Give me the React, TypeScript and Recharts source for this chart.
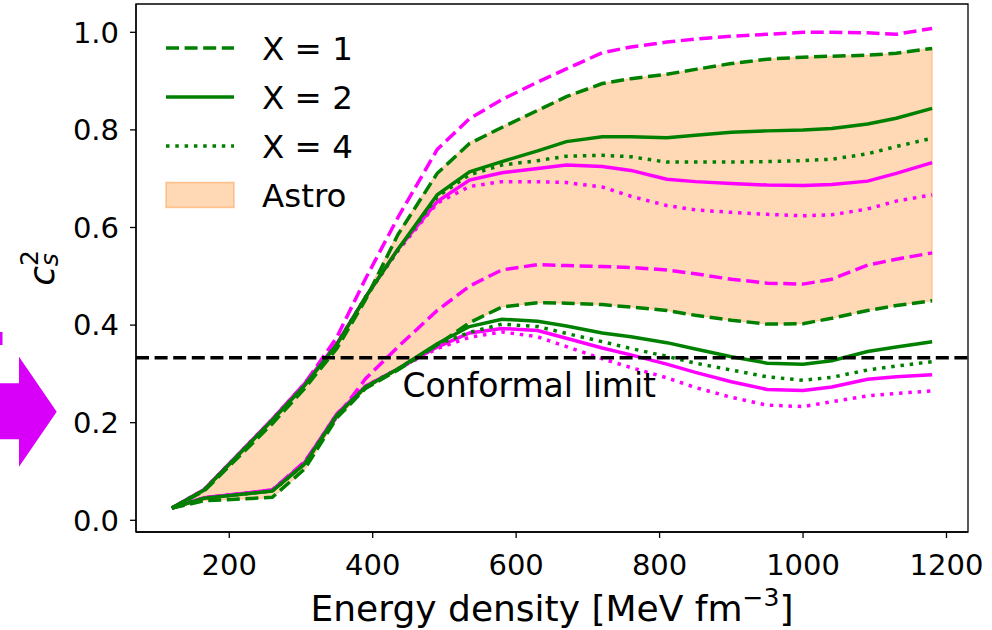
import React from 'react';
import { ComposedChart, Line, Area, XAxis, YAxis, ReferenceLine, ReferenceArea } from 'recharts';

const FONT = '"DejaVu Sans", Verdana, sans-serif';
const GREEN = '#008000';
const MAGENTA = '#ff00ff';
const ORANGE = '#ff7f0e';

// Energy density grid [MeV fm^-3]
const energy = [120, 165, 260, 305, 350, 390, 435, 490, 535, 580, 630, 670, 720, 760, 810, 850, 900, 950, 1000, 1040, 1090, 1130, 1180];

// Astro band
const astroLo = [0.025, 0.040, 0.046, 0.103, 0.207, 0.268, 0.306, 0.358, 0.404, 0.437, 0.446, 0.445, 0.442, 0.437, 0.430, 0.420, 0.410, 0.402, 0.403, 0.414, 0.430, 0.440, 0.450];
const astroHi = [0.025, 0.064, 0.208, 0.282, 0.365, 0.460, 0.588, 0.713, 0.774, 0.806, 0.841, 0.868, 0.895, 0.905, 0.914, 0.924, 0.936, 0.945, 0.949, 0.951, 0.953, 0.957, 0.967];

// Green curves (upper / lower bounds)
const greenX1Up = [0.025, 0.060, 0.198, 0.270, 0.352, 0.452, 0.585, 0.711, 0.772, 0.805, 0.840, 0.868, 0.895, 0.905, 0.914, 0.924, 0.936, 0.945, 0.949, 0.951, 0.953, 0.957, 0.967];
const greenX1Lo = [0.025, 0.040, 0.047, 0.105, 0.210, 0.270, 0.308, 0.359, 0.405, 0.437, 0.446, 0.445, 0.442, 0.437, 0.430, 0.420, 0.410, 0.402, 0.403, 0.414, 0.430, 0.440, 0.450];
const greenX2Up = [0.025, 0.062, 0.205, 0.276, 0.360, 0.457, 0.555, 0.667, 0.714, 0.735, 0.757, 0.776, 0.786, 0.786, 0.784, 0.789, 0.795, 0.798, 0.800, 0.803, 0.812, 0.824, 0.844];
const greenX2Lo = [0.025, 0.045, 0.060, 0.115, 0.215, 0.273, 0.310, 0.362, 0.397, 0.412, 0.408, 0.398, 0.384, 0.376, 0.364, 0.351, 0.335, 0.322, 0.320, 0.327, 0.346, 0.355, 0.366];
const greenX4Up = [0.025, 0.062, 0.205, 0.276, 0.360, 0.457, 0.553, 0.663, 0.708, 0.728, 0.737, 0.746, 0.748, 0.745, 0.734, 0.734, 0.734, 0.735, 0.737, 0.740, 0.751, 0.766, 0.783];
const greenX4Lo = [0.025, 0.045, 0.060, 0.115, 0.215, 0.273, 0.310, 0.360, 0.385, 0.402, 0.397, 0.383, 0.366, 0.352, 0.336, 0.322, 0.308, 0.294, 0.287, 0.293, 0.308, 0.316, 0.325];

// Magenta curves (upper / lower bounds)
const magX1Up = [0.025, 0.062, 0.205, 0.280, 0.375, 0.495, 0.620, 0.760, 0.823, 0.862, 0.898, 0.925, 0.958, 0.970, 0.980, 0.986, 0.992, 0.996, 1.000, 1.000, 0.999, 0.996, 1.008];
const magX1Lo = [0.025, 0.046, 0.062, 0.120, 0.212, 0.290, 0.355, 0.430, 0.480, 0.513, 0.524, 0.522, 0.520, 0.518, 0.513, 0.505, 0.494, 0.486, 0.484, 0.494, 0.523, 0.535, 0.548];
const magX2Up = [0.025, 0.063, 0.207, 0.280, 0.362, 0.457, 0.555, 0.653, 0.697, 0.712, 0.721, 0.728, 0.725, 0.717, 0.699, 0.694, 0.690, 0.687, 0.686, 0.688, 0.695, 0.711, 0.733];
const magX2Lo = [0.025, 0.046, 0.062, 0.118, 0.218, 0.275, 0.310, 0.355, 0.384, 0.393, 0.389, 0.373, 0.353, 0.339, 0.320, 0.303, 0.284, 0.268, 0.266, 0.273, 0.289, 0.294, 0.298];
const magX4Up = [0.025, 0.063, 0.207, 0.280, 0.362, 0.457, 0.552, 0.650, 0.684, 0.694, 0.694, 0.692, 0.683, 0.664, 0.645, 0.636, 0.631, 0.627, 0.624, 0.626, 0.638, 0.654, 0.667];
const magX4Lo = [0.025, 0.046, 0.062, 0.118, 0.218, 0.275, 0.310, 0.352, 0.375, 0.386, 0.376, 0.356, 0.331, 0.313, 0.292, 0.272, 0.252, 0.236, 0.233, 0.243, 0.255, 0.260, 0.265];

const xTicks = [200, 400, 600, 800, 1000, 1200];
const yTicks = [0, 0.2, 0.4, 0.6, 0.8, 1.0];
const xDomain = [70, 1230];
const yDomain = [-0.024, 1.058];
const conformalLimit = 1 / 3;

const DASH = '13 5.6';
const DOT = '3.5 5.8';

const legendItems = [
  { label: 'X = 1', kind: 'line', dash: DASH },
  { label: 'X = 2', kind: 'line', dash: undefined },
  { label: 'X = 4', kind: 'line', dash: DOT },
  { label: 'Astro', kind: 'patch', dash: undefined },
];

const seriesDefs = [
  { key: 'mdU', values: magX1Up, color: MAGENTA, dash: DASH },
  { key: 'mdL', values: magX1Lo, color: MAGENTA, dash: DASH },
  { key: 'msU', values: magX2Up, color: MAGENTA, dash: undefined },
  { key: 'msL', values: magX2Lo, color: MAGENTA, dash: undefined },
  { key: 'mtU', values: magX4Up, color: MAGENTA, dash: DOT },
  { key: 'mtL', values: magX4Lo, color: MAGENTA, dash: DOT },
  { key: 'gdU', values: greenX1Up, color: GREEN, dash: DASH },
  { key: 'gdL', values: greenX1Lo, color: GREEN, dash: DASH },
  { key: 'gsU', values: greenX2Up, color: GREEN, dash: undefined },
  { key: 'gsL', values: greenX2Lo, color: GREEN, dash: undefined },
  { key: 'gtU', values: greenX4Up, color: GREEN, dash: DOT },
  { key: 'gtL', values: greenX4Lo, color: GREEN, dash: DOT },
];

const rows = energy.map((e, i) => {
  const r: any = { E: e, astro: [astroLo[i], astroHi[i]] };
  seriesDefs.forEach((s) => {
    r[s.key] = s.values[i];
  });
  return r;
});

const lastIdx = energy.length - 1;

const XLabel = (props: any) => {
  const vb = props.viewBox || { x: 136, y: 532, width: 832, height: 98 };
  const cx = vb.x + vb.width / 2;
  return (
    <text x={cx} y={621} textAnchor="middle" fontFamily={FONT} fontSize={36} fill="#000">
      Energy density [MeV fm
      <tspan fontSize={25} dy={-15}>−3</tspan>
      <tspan fontSize={36} dy={15}>]</tspan>
    </text>
  );
};

const YLabel = (props: any) => {
  const vb = props.viewBox || { x: 0, y: 4, width: 136, height: 528 };
  const cy = vb.y + vb.height / 2;
  return (
    <text transform={`translate(54,${cy}) rotate(-90)`} textAnchor="middle" fontFamily={FONT} fontSize={36} fill="#000">
      <tspan fontStyle="italic">c</tspan>
      <tspan fontSize={25} dy={-16}>2</tspan>
      <tspan fontSize={25} fontStyle="italic" dx={-16} dy={20}>s</tspan>
    </text>
  );
};

const ConformalLabel = (props: any) => {
  const vb = props.viewBox || { x: 136, y: 357 };
  return (
    <text x={vb.x + 266.5} y={vb.y + 39} fontFamily={FONT} fontSize={33} fill="#000">
      Conformal limit
    </text>
  );
};

const LegendOverlay = () => (
  <svg width={420} height={230} style={{ position: 'absolute', left: 0, top: 0, pointerEvents: 'none' }}>
    {legendItems.map((it, i) => {
      const y = 48 + i * 49;
      return (
        <g key={it.label}>
          {it.kind === 'line' ? (
            <line x1={166} x2={234} y1={y} y2={y} stroke={GREEN} strokeWidth={3.5} strokeDasharray={it.dash} />
          ) : (
            <rect x={166} y={y - 12.5} width={68} height={25} fill={ORANGE} fillOpacity={0.3} stroke={ORANGE} strokeOpacity={0.4} strokeWidth={1.5} />
          )}
          <text x={262} y={y + 12} fontFamily={FONT} fontSize={32.5} fill="#000">
            {it.label}
          </text>
        </g>
      );
    })}
  </svg>
);

const ArrowOverlay = () => (
  <svg width={70} height={630} style={{ position: 'absolute', left: 0, top: 0, pointerEvents: 'none' }}>
    <rect x={0} y={332} width={2.5} height={13} fill="#d800f8" />
    <polygon points="0,383.3 19,383.3 19,356.7 56.7,411.7 19,466.7 19,439.3 0,439.3" fill="#d800f8" />
  </svg>
);

export default function App() {
  return (
    <div style={{ position: 'absolute', left: 0, top: 0, width: 992, height: 630, background: '#fff' }}>
      <ComposedChart width={992} height={630} data={rows} margin={{ top: 4, right: 24, bottom: 0, left: 0 }}>
        <XAxis
          dataKey="E"
          type="number"
          domain={xDomain}
          ticks={xTicks}
          allowDataOverflow
          height={98}
          tickSize={6}
          tickMargin={16}
          stroke="#000"
          tickLine={{ stroke: '#000', strokeWidth: 1.3 }}
          axisLine={{ stroke: '#000', strokeWidth: 1.3 }}
          tick={{ fontSize: 29, fill: '#000', fontFamily: FONT }}
          label={<XLabel />}
        />
        <YAxis
          type="number"
          domain={yDomain}
          ticks={yTicks}
          allowDataOverflow
          width={136}
          tickSize={6}
          tickMargin={11}
          tickFormatter={(v: number) => v.toFixed(1)}
          tickLine={{ stroke: '#000', strokeWidth: 1.3 }}
          axisLine={{ stroke: '#000', strokeWidth: 1.3 }}
          tick={{ fontSize: 29, fill: '#000', fontFamily: FONT }}
          label={<YLabel />}
        />
        <Area
          dataKey="astro"
          type="linear"
          fill={ORANGE}
          fillOpacity={0.3}
          stroke={ORANGE}
          strokeOpacity={0.3}
          strokeWidth={1}
          isAnimationActive={false}
          dot={false}
          activeDot={false}
        />
        <ReferenceLine
          segment={[
            { x: energy[lastIdx], y: astroLo[lastIdx] },
            { x: energy[lastIdx], y: astroHi[lastIdx] },
          ]}
          stroke={ORANGE}
          strokeOpacity={0.3}
          strokeWidth={1.5}
        />
        {seriesDefs.map((s) => (
          <Line
            key={s.key}
            dataKey={s.key}
            type="linear"
            stroke={s.color}
            strokeWidth={3.5}
            strokeDasharray={s.dash}
            dot={false}
            activeDot={false}
            isAnimationActive={false}
          />
        ))}
        <ReferenceLine
          y={conformalLimit}
          stroke="#000"
          strokeWidth={3.5}
          strokeDasharray={DASH}
          label={<ConformalLabel />}
        />
        <ReferenceArea
          x1={xDomain[0]}
          x2={xDomain[1]}
          y1={yDomain[0]}
          y2={yDomain[1]}
          fill="none"
          fillOpacity={0}
          stroke="#000"
          strokeWidth={1.3}
          strokeOpacity={1}
          ifOverflow="extendDomain"
        />
      </ComposedChart>
      <LegendOverlay />
      <ArrowOverlay />
    </div>
  );
}
